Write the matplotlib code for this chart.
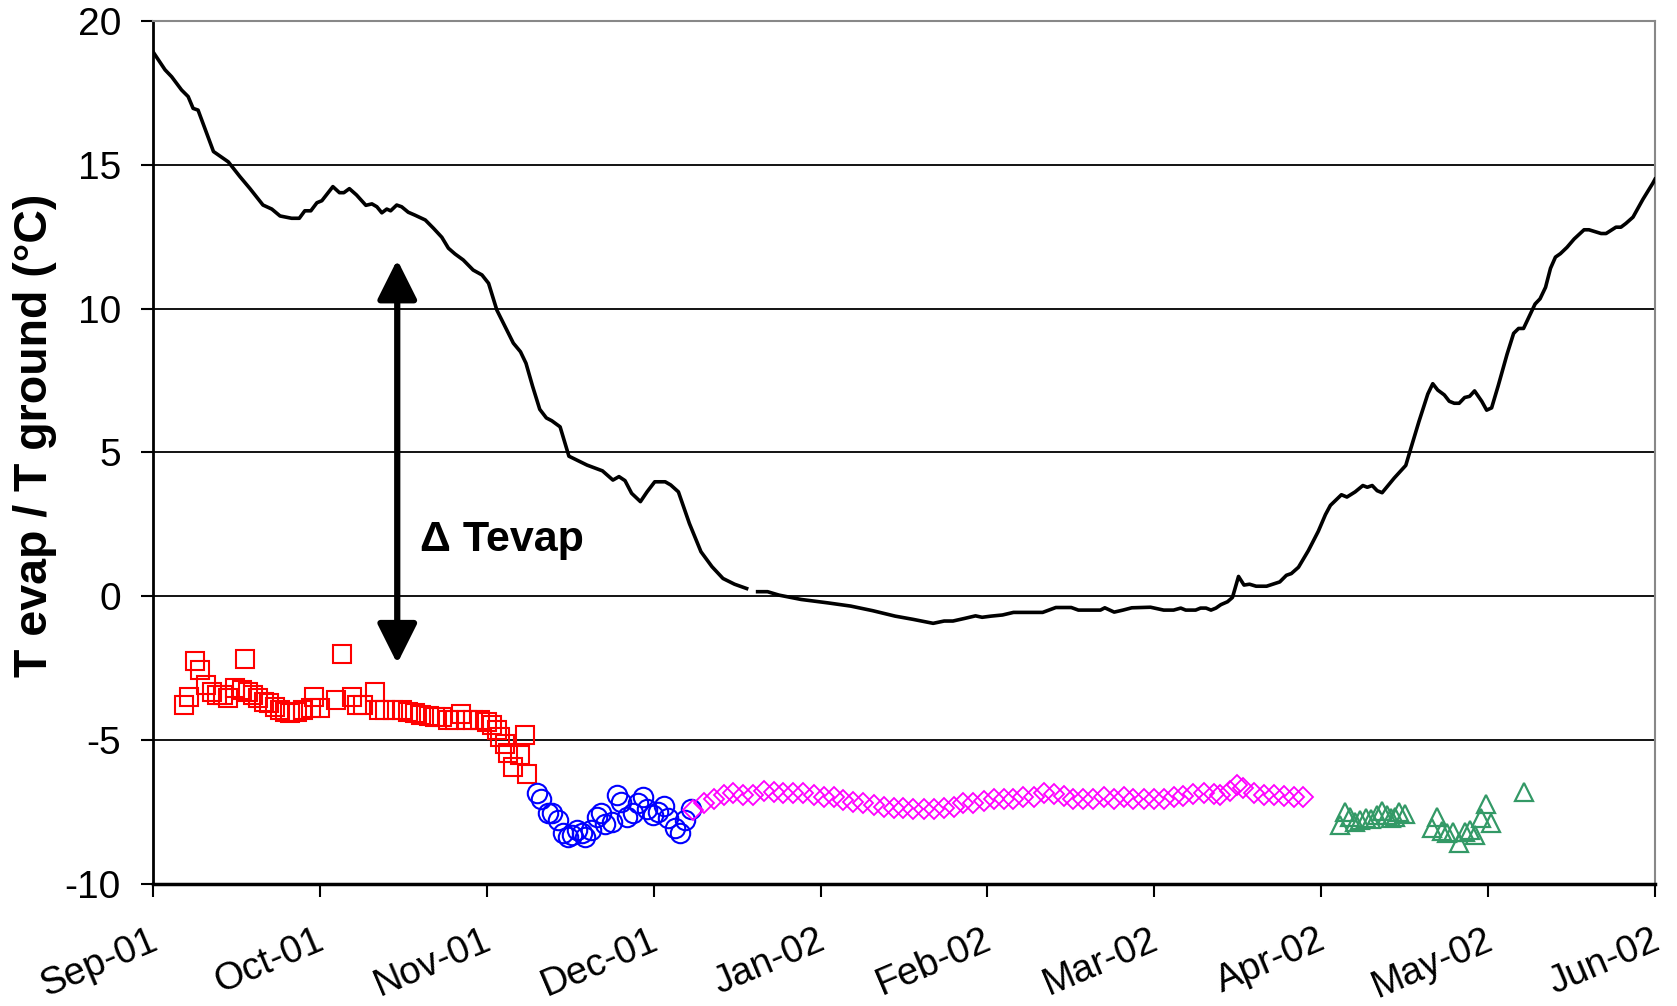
import numpy as np
import matplotlib
matplotlib.use("Agg")
import matplotlib.pyplot as plt
from matplotlib.transforms import offset_copy

# Time axis: days counted from 1 September 2001 to 1 June 2002
N_DAYS = 273

# Ground temperature (black curve); NaN marks the missing stretch in December
ground_day = [0.0, 2.2, 3.4, 5.2, 6.4, 7.3, 8.2, 11.0, 13.7, 15.8, 17.6, 20.0, 21.6,
              23.1, 25.2, 26.6, 27.6, 28.7, 29.8, 30.7, 32.7, 33.9, 34.7, 35.7, 37.0,
              38.7, 39.8, 40.7, 41.6, 42.5, 43.2, 44.3, 45.2, 46.4, 47.6, 49.5, 51.0,
              52.5, 53.7, 54.9, 56.4, 58.2, 59.8, 61.0, 62.5, 64.3, 65.5, 66.8, 67.8,
              69.0, 70.3, 71.5, 72.5, 74.0, 75.6, 78.9, 81.7, 83.6, 84.7, 85.8, 87.0,
              88.6, 89.8, 91.2, 93.1, 94.1, 95.5, 97.5, 99.6, 101.6, 103.6, 105.7, 107.9,
              108.9, 109.9, 111.7, 113.8, 117.8, 122.7, 126.8, 130.8, 134.9, 138.1, 141.8,
              143.8, 145.4, 147.5, 149.5, 150.7, 152.3, 154.4, 156.4, 161.7, 164.1, 166.9,
              168.2, 172.2, 173.0, 174.7, 176.3, 177.9, 181.3, 183.7, 185.5, 186.8, 187.7,
              189.5, 190.4, 191.4, 192.3, 193.2, 194.1, 195.3, 196.2, 197.3, 198.3, 199.3,
              200.5, 202.4, 204.8, 206.0, 206.9, 208.2, 210.0, 211.8, 213.1, 214.0, 216.0,
              217.0, 218.5, 219.9, 220.7, 221.6, 222.5, 223.4, 225.6, 227.7, 228.6, 230.1,
              231.7, 232.6, 233.5, 234.7, 235.6, 236.5, 237.4, 238.4, 239.3, 240.2, 241.5,
              242.4, 243.3, 244.5, 246.1, 247.3, 248.2, 249.1, 250.3, 251.2, 252.1, 253.1,
              254.0, 254.9, 255.8, 257.0, 258.3, 260.1, 261.0, 263.2, 264.1, 265.9, 266.8,
              267.7, 269.0, 270.8, 272.6, 273.0]
ground_temp = [18.93, 18.30, 18.06, 17.60, 17.37, 16.96, 16.90, 15.46, 15.10, 14.59, 14.18,
               13.60, 13.46, 13.22, 13.14, 13.14, 13.40, 13.40, 13.68, 13.75, 14.24, 14.03,
               14.03, 14.17, 13.95, 13.59, 13.64, 13.54, 13.33, 13.46, 13.40, 13.60, 13.54,
               13.35, 13.25, 13.08, 12.79, 12.48, 12.10, 11.90, 11.69, 11.34, 11.17, 10.88,
               9.95, 9.26, 8.80, 8.50, 8.10, 7.30, 6.50, 6.20, 6.10, 5.89, 4.87, 4.56, 4.36,
               4.04, 4.16, 4.02, 3.58, 3.29, 3.63, 3.98, 3.98, 3.87, 3.63, 2.53, 1.55, 1.03,
               0.62, 0.42, 0.27, np.nan, 0.16, 0.16, 0.04, -0.11, -0.23, -0.34, -0.50, -0.69,
               -0.80, -0.94, -0.86, -0.86, -0.77, -0.68, -0.73, -0.69, -0.65, -0.56, -0.56,
               -0.39, -0.39, -0.48, -0.48, -0.40, -0.55, -0.48, -0.40, -0.38, -0.48, -0.48,
               -0.41, -0.48, -0.48, -0.41, -0.41, -0.48, -0.41, -0.29, -0.19, -0.04, 0.69,
               0.39, 0.42, 0.35, 0.35, 0.50, 0.73, 0.79, 1.01, 1.59, 2.26, 2.84, 3.16, 3.53,
               3.45, 3.63, 3.85, 3.79, 3.85, 3.67, 3.60, 4.11, 4.55, 5.13, 6.08, 7.03, 7.39,
               7.17, 7.00, 6.78, 6.71, 6.71, 6.91, 6.95, 7.14, 6.78, 6.47, 6.55, 7.32, 8.41,
               9.14, 9.31, 9.31, 9.80, 10.16, 10.34, 10.74, 11.40, 11.79, 11.91, 12.13, 12.42,
               12.74, 12.74, 12.61, 12.61, 12.83, 12.83, 12.96, 13.18, 13.80, 14.36, 14.50]

# Evaporator temperature, one series per operating period
red_day = [5.6, 6.5, 7.6, 8.5, 9.6, 10.7, 11.6, 12.8, 13.7, 14.9, 16.1, 16.7, 17.2, 18.2,
           19.1, 20.1, 21.1, 22.2, 23.1, 24.0, 24.9, 26.1, 27.3, 28.8, 29.3, 30.4, 33.2,
           34.3, 36.2, 37.0, 38.2, 40.4, 41.0, 42.2, 43.7, 45.2, 46.4, 47.6, 48.8, 50.1,
           51.3, 52.5, 53.7, 54.9, 56.0, 57.0, 58.2, 59.5, 60.7, 61.6, 62.5, 63.1, 64.0,
           64.6, 65.5, 66.7, 67.6, 67.9]
red_temp = [-3.78, -3.49, -2.24, -2.57, -3.09, -3.32, -3.44, -3.44, -3.55, -3.20, -3.26,
            -2.19, -3.32, -3.44, -3.55, -3.67, -3.72, -3.84, -3.96, -4.02, -4.07, -4.02,
            -3.96, -3.90, -3.49, -3.90, -3.61, -2.01, -3.49, -3.78, -3.78, -3.32, -3.96,
            -3.96, -3.96, -3.96, -4.02, -4.07, -4.13, -4.17, -4.19, -4.21, -4.30, -4.30,
            -4.10, -4.30, -4.30, -4.30, -4.36, -4.48, -4.65, -4.89, -5.12, -5.46, -5.93,
            -5.52, -4.83, -6.16]

blue_day = [69.8, 70.5, 71.8, 72.6, 73.6, 74.6, 75.5, 76.2, 77.0, 77.9, 78.5, 79.6, 80.7,
            81.5, 82.1, 83.4, 84.3, 85.1, 86.1, 87.2, 88.1, 89.0, 89.8, 90.8, 91.8, 92.8,
            93.7, 94.8, 95.8, 96.7, 97.8]
blue_temp = [-6.85, -7.03, -7.53, -7.53, -7.76, -8.24, -8.36, -8.30, -8.11, -8.24, -8.36,
             -8.13, -7.67, -7.53, -7.90, -7.84, -6.91, -7.14, -7.67, -7.55, -7.20, -6.97,
             -7.41, -7.61, -7.49, -7.29, -7.72, -8.07, -8.22, -7.78, -7.41]

magenta_day = [98.2, 100.1, 101.9, 103.7, 105.5, 107.3, 109.1, 111.0, 112.8, 114.6, 116.4,
               118.2, 120.1, 121.9, 123.7, 125.5, 127.3, 129.1, 131.0, 132.8, 134.6, 136.4,
               138.2, 140.1, 141.9, 143.7, 145.5, 147.3, 149.1, 151.0, 152.8, 154.6, 156.4,
               158.2, 160.1, 161.9, 163.7, 165.5, 167.3, 169.1, 170.9, 172.8, 174.6, 176.4,
               178.2, 180.1, 181.9, 183.7, 185.5, 187.3, 189.1, 191.0, 192.8, 194.0, 195.8,
               197.1, 198.2, 200.1, 201.9, 203.7, 205.5, 207.3, 209.1]
magenta_temp = [-7.43, -7.20, -7.03, -6.91, -6.85, -6.91, -6.91, -6.76, -6.80, -6.83, -6.83,
                -6.85, -6.91, -6.97, -6.99, -7.09, -7.14, -7.20, -7.26, -7.32, -7.35, -7.37,
                -7.41, -7.41, -7.41, -7.37, -7.32, -7.20, -7.18, -7.11, -7.06, -7.06, -7.03,
                -6.99, -6.97, -6.83, -6.88, -6.95, -7.03, -7.03, -7.03, -6.97, -7.06, -6.97,
                -7.03, -7.03, -7.06, -7.03, -6.97, -6.95, -6.88, -6.83, -6.88, -6.91, -6.76,
                -6.56, -6.68, -6.85, -6.91, -6.91, -6.95, -6.97, -6.99]

green_day = [215.7, 216.6, 217.5, 218.5, 219.3, 220.5, 221.4, 222.4, 223.4, 224.2, 225.0,
             225.7, 226.5, 227.5, 232.5, 233.3, 234.3, 235.2, 236.3, 237.3, 238.4, 239.3,
             240.2, 241.3, 242.2, 243.2, 249.2]
green_temp = [-7.96, -7.51, -7.67, -7.86, -7.78, -7.69, -7.75, -7.60, -7.46, -7.60, -7.69,
              -7.67, -7.51, -7.57, -8.04, -7.67, -8.15, -8.24, -8.19, -8.56, -8.21, -8.13,
              -8.30, -7.72, -7.22, -7.87, -6.80]

y_ticks = [-10, -5, 0, 5, 10, 15, 20]
x_labels = ["Sep-01", "Oct-01", "Nov-01", "Dec-01", "Jan-02", "Feb-02", "Mar-02",
            "Apr-02", "May-02", "Jun-02"]

plt.rcParams["font.family"] = ["Liberation Sans", "DejaVu Sans"]
plt.rcParams["axes.unicode_minus"] = False

fig = plt.figure(figsize=(16.77, 10.06), dpi=100)
ax = fig.add_axes([0.0912, 0.1213, 0.8957, 0.8579])

for y in y_ticks[1:-1]:
    ax.axhline(y, color="black", lw=1.3, zorder=1)

ax.plot(ground_day, ground_temp, color="black", lw=2.6, zorder=3)

ax.plot(red_day, red_temp, ls="none", marker="s", ms=12.5, mfc="none",
        mec="#FF0000", mew=1.5, zorder=4)
ax.plot(blue_day, blue_temp, ls="none", marker="o", ms=14, mfc="none",
        mec="#0000FF", mew=1.5, zorder=4)
ax.plot(magenta_day, magenta_temp, ls="none", marker="D", ms=10.5, mfc="none",
        mec="#FF00FF", mew=1.3, zorder=4)
ax.plot(green_day, green_temp, ls="none", marker="^", ms=13.5, mfc="none",
        mec="#339966", mew=1.6, zorder=4)

# Double arrow marking the temperature lift
arrow_x = 44.4
ax.annotate("", xy=(arrow_x, 11.7), xytext=(arrow_x, -2.34),
            arrowprops=dict(arrowstyle="<|-|>,head_length=1.1,head_width=0.55",
                            color="black", lw=4.5, mutation_scale=22,
                            shrinkA=0, shrinkB=0), zorder=5)
ax.text(48.5, 1.95, "\u0394 Tevap", fontsize=31, fontweight="bold",
        ha="left", va="center", zorder=5)

ax.set_xlim(0, N_DAYS)
ax.set_ylim(-10, 20)
ax.set_yticks(y_ticks)
ax.set_yticklabels([str(v) for v in y_ticks])
x_ticks = np.linspace(0, N_DAYS, len(x_labels))
ax.set_xticks(x_ticks)
ax.set_xticklabels([])

ax.tick_params(axis="y", direction="out", length=9, width=1.5, labelsize=28, pad=14)
ax.tick_params(axis="x", direction="out", length=9, width=1.5)

# Slanted month labels, right end of each baseline just below its tick
label_trans = offset_copy(ax.get_xaxis_transform(), fig=fig, x=6.5, y=-64, units="dots")
for xt, lab in zip(x_ticks, x_labels):
    ax.text(xt, 0, lab, transform=label_trans, rotation=23, rotation_mode="anchor",
            ha="right", va="baseline", fontsize=27.5)

ax.spines["left"].set_linewidth(2.0)
ax.spines["bottom"].set_linewidth(2.5)
for s in ("top", "right"):
    ax.spines[s].set_color("#888888")
    ax.spines[s].set_linewidth(1.5)

fig.text(0.021, 0.567, "T evap / T ground (\u00b0C)", rotation=90, fontsize=33.5,
         fontweight="bold", ha="center", va="center")

fig.savefig("out.png", dpi=100)
